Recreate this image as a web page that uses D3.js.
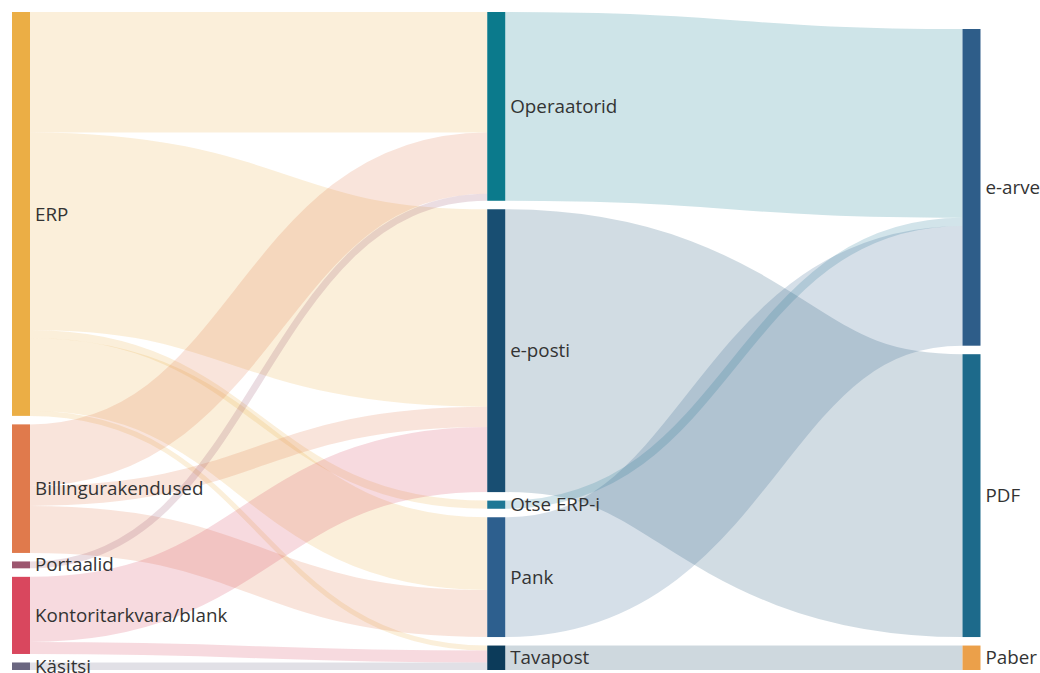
<!DOCTYPE html>
<html>
<head>
<meta charset="utf-8">
<script src="https://cdn.jsdelivr.net/npm/d3@7"></script>
<style>
  body { margin: 0; background: #fff; }
  svg { display: block; }
  .label { font-family: "Segoe UI", "Open Sans", sans-serif; font-size: 18.8px; fill: #333; }
</style>
</head>
<body>
<svg id="chart" width="1040" height="673"></svg>
<script>
// node names per column
const sourceNodes = ["ERP", "Billingurakendused", "Portaalid", "Kontoritarkvara/blank", "Käsitsi"];
const channelNodes = ["Operaatorid", "e-posti", "Otse ERP-i", "Pank", "Tavapost"];
const formatNodes = ["e-arve", "PDF", "Paber"];

// flows (share of invoices, %)
const linkFrom = ["ERP", "ERP", "ERP", "ERP", "ERP",
                  "Billingurakendused", "Billingurakendused", "Billingurakendused",
                  "Portaalid",
                  "Kontoritarkvara/blank", "Kontoritarkvara/blank",
                  "Käsitsi",
                  "Operaatorid", "e-posti", "Otse ERP-i", "Pank", "Tavapost"];
const linkTo = ["Operaatorid", "e-posti", "Otse ERP-i", "Pank", "Tavapost",
                "Operaatorid", "e-posti", "Pank",
                "Operaatorid",
                "e-posti", "Tavapost",
                "Tavapost",
                "e-arve", "PDF", "e-arve", "e-arve", "Paber"];
const linkValue = [19.2, 31.5, 1.3, 11.6, 0.8,
                   9.8, 3.2, 7.5,
                   1.1,
                   10.4, 1.9,
                   1.2,
                   30.1, 45.1, 1.3, 19.1, 3.9];

const nodeColor = {
    "ERP": "#ebae45", "Billingurakendused": "#e07a4c", "Portaalid": "#9c566f",
    "Kontoritarkvara/blank": "#d9475e", "Käsitsi": "#6a6680",
    "Operaatorid": "#0b7a8c", "e-posti": "#184e72", "Otse ERP-i": "#1d7795",
    "Pank": "#2d5f8e", "Tavapost": "#0c3b5a",
    "e-arve": "#2e5d89", "PDF": "#1d6a8b", "Paber": "#eba04a"
};

const svg = d3.select('#chart');
const extent = {top: 12, bottom: 670};
const nodeWidth = 18;
const nodePadding = 8.5;

//build nodes and links
const columns = [sourceNodes, channelNodes, formatNodes];
const nodes = [];
const byName = {};
columns.forEach((col, c) => col.forEach(name => {
    const n = {name: name, column: c, sourceLinks: [], targetLinks: []};
    nodes.push(n);
    byName[name] = n;
}));
const links = linkFrom.map((s, i) => ({source: byName[s], target: byName[linkTo[i]], value: linkValue[i]}));
links.forEach(l => { l.source.sourceLinks.push(l); l.target.targetLinks.push(l); });
nodes.forEach(n => n.value = Math.max(d3.sum(n.sourceLinks, l => l.value), d3.sum(n.targetLinks, l => l.value)));

//horizontal position of columns
const x = d3.scaleLinear().domain([0, columns.length - 1]).range([12, 962.5]);
nodes.forEach(n => { n.x0 = x(n.column); n.x1 = n.x0 + nodeWidth; });

//value to pixels, fitted to the fullest column
const ky = d3.min(columns, col => (extent.bottom - extent.top - (col.length - 1) * nodePadding) / d3.sum(col, name => byName[name].value));
const h = d3.scaleLinear().domain([0, 1]).range([0, ky]);

//stack each column from the top
columns.forEach(col => {
    let y = extent.top;
    col.forEach(name => {
        const n = byName[name];
        n.y0 = y; n.y1 = y + h(n.value);
        y = n.y1 + nodePadding;
    });
});

//push overlapping nodes apart inside the extent
function resolve(col) {
    const list = col.map(name => byName[name]);
    let y = extent.top;
    list.forEach(n => {
        const dy = y - n.y0;
        if (dy > 0) { n.y0 += dy; n.y1 += dy; }
        y = n.y1 + nodePadding;
    });
    y = extent.bottom;
    list.slice().reverse().forEach(n => {
        const dy = n.y1 - y;
        if (dy > 0) { n.y0 -= dy; n.y1 -= dy; }
        y = n.y0 - nodePadding;
    });
}
//move later columns toward their sources
columns.slice(1).forEach(col => {
    col.forEach(name => {
        const n = byName[name];
        const cy = d3.sum(n.targetLinks, l => l.value * (l.source.y0 + l.source.y1) / 2) / n.value;
        const hh = n.y1 - n.y0;
        n.y0 = cy - hh / 2; n.y1 = cy + hh / 2;
    });
    resolve(col);
});

//link positions inside each node
nodes.forEach(n => {
    n.sourceLinks.sort((a, b) => a.target.y0 - b.target.y0);
    n.targetLinks.sort((a, b) => a.source.y0 - b.source.y0);
    let y0 = n.y0, y1 = n.y0;
    n.sourceLinks.forEach(l => { l.width = h(l.value); l.y0 = y0 + l.width / 2; y0 += l.width; });
    n.targetLinks.forEach(l => { l.width = h(l.value); l.y1 = y1 + l.width / 2; y1 += l.width; });
});

//draw links
svg.append("g")
    .attr("fill", "none")
    .attr("stroke-opacity", 0.2)
    .selectAll("path")
    .data(links)
    .join("path")
        .attr("d", d3.linkHorizontal()
            .source(l => [l.source.x1, l.y0])
            .target(l => [l.target.x0, l.y1]))
        .attr("stroke", l => nodeColor[l.source.name])
        .attr("stroke-width", l => Math.max(1, l.width));

//draw nodes
svg.append("g")
    .selectAll("rect")
    .data(nodes)
    .join("rect")
        .attr("x", n => n.x0)
        .attr("y", n => n.y0)
        .attr("width", n => n.x1 - n.x0)
        .attr("height", n => n.y1 - n.y0)
        .attr("fill", n => nodeColor[n.name]);

//labels
svg.append("g")
    .selectAll("text")
    .data(nodes)
    .join("text")
        .attr("class", "label")
        .attr("x", n => n.x1 + 5)
        .attr("y", n => (n.y0 + n.y1) / 2)
        .attr("dy", "0.35em")
        .text(n => n.name);
</script>
</body>
</html>
